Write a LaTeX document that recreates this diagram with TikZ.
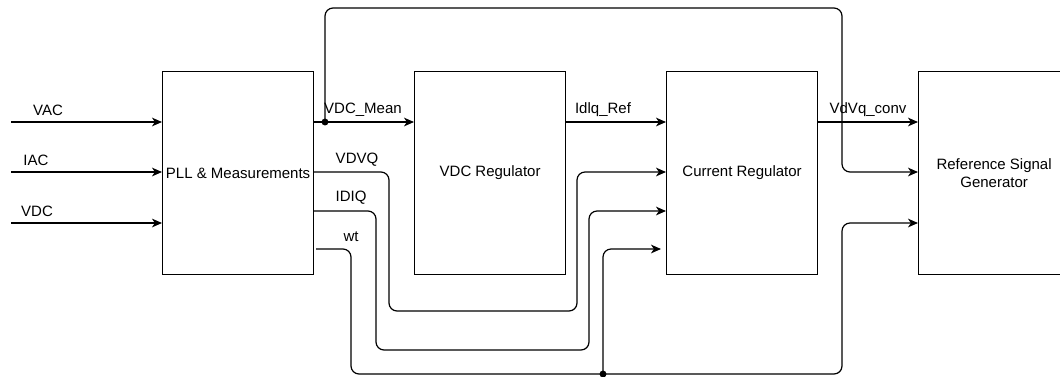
\documentclass[tikz,border=0pt]{standalone}
\usepackage{fontspec}
\setmainfont{Liberation Sans}
\usetikzlibrary{arrows.meta,calc}
\begin{document}
\begin{tikzpicture}[x=0.75pt,y=-0.75pt,
  font=\fontsize{11.25}{13.5}\selectfont,
  blockbox/.style={draw,line width=0.9pt,inner sep=0pt,minimum width=113.25pt,minimum height=152.25pt,anchor=north west,align=center},
  wire/.style={line width=0.9pt,rounded corners=6pt},
  arr/.style={wire,-{Stealth[length=7.5pt,width=6.5pt,inset=2.2pt]}},
  lbl/.style={inner sep=0pt,anchor=center},
  dotfill/.style={fill=black}]
\useasboundingbox (0,0) rectangle (1060,376);
\clip (0,0) rectangle (1060,376);
\fill[white] (0,0) rectangle (1060,376);

% blocks
\node[blockbox] (pll) at (162,71) {PLL \& Measurements};
\node[blockbox] (vdc) at (414,71) {VDC Regulator};
\node[blockbox] (cur) at (666,71) {Current Regulator};
\node[blockbox] (rsg) at (918,71) {Reference Signal\\Generator};

% input ends
\coordinate (vacin) at (11,122);
\coordinate (iacin) at (11,172);
\coordinate (vdcin) at (11,223);
\draw[arr] (vacin) -- (vacin -| pll.west);
\draw[arr] (iacin) -- (iacin -| pll.west);
\draw[arr] (vdcin) -- (vdcin -| pll.west);
\node[lbl] (lvac) at (48,110) {VAC};
\node[lbl] (liac) at (36,160) {IAC};
\node[lbl] (lvdc) at (37,211) {VDC};

% VDC_Mean
\coordinate (j1) at (325,122);
\draw[arr] (j1 -| pll.east) -- (j1 -| vdc.west);
\draw[arr] (j1) -- (325,8) -- (842,8) -- (842,172) -- (rsg.west |- 0,172);
\fill[dotfill] (j1) circle[radius=2.6pt];
\node[lbl] (lmean) at (363,110) {VDC\_Mean};

% Idlq_Ref
\draw[arr] (vdc.east |- 0,122) -- (cur.west |- 0,122);
\node[lbl] (lref) at (603,110) {Idlq\_Ref};

% VdVq_conv
\draw[arr] (cur.east |- 0,122) -- (rsg.west |- 0,122);
\node[lbl] (lconv) at (868,110) {VdVq\_conv};

% VDVQ
\draw[arr] (pll.east |- 0,172) -- (389,172) -- (389,311) -- (577,311) -- (577,172) -- (cur.west |- 0,172);
\node[lbl] (lvdvq) at (357,160) {VDVQ};

% IDIQ
\draw[arr] (pll.east |- 0,211) -- (376,211) -- (376,350) -- (589,350) -- (589,211) -- (cur.west |- 0,211);
\node[lbl] (lidiq) at (351,198) {IDIQ};

% wt
\coordinate (j2) at (603,374);
\coordinate (wtend) at (661,249);
\draw[wire] (316,249) -- (351,249) -- (351,374) -- (j2);
\draw[arr] (j2) -- (603,249) -- (wtend);
\draw[arr] (j2) -- (842,374) -- (842,223) -- (rsg.west |- 0,223);
\fill[dotfill] (j2) circle[radius=2.6pt];
\node[lbl] (lwt) at (351,237) {wt};
\end{tikzpicture}
\end{document}
